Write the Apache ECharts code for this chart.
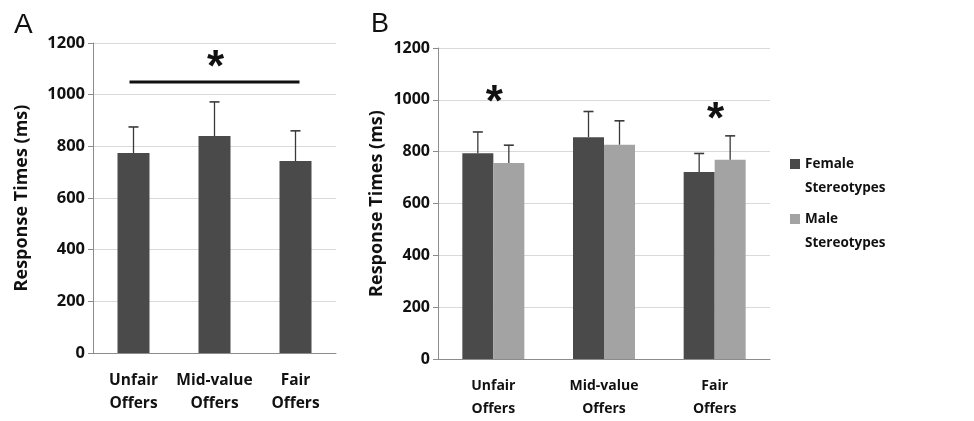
<!DOCTYPE html>
<html><head><meta charset="utf-8">
<script src="https://cdn.jsdelivr.net/npm/echarts@6/dist/echarts.min.js"></script>
<style>html,body{margin:0;padding:0;background:#fff}#c{width:974px;height:421px}</style>
</head><body><div id="c"></div>
<script>
// ---- data ----
const categories = ['Unfair Offers', 'Mid-value Offers', 'Fair Offers'];
const yTicks = [0, 200, 400, 600, 800, 1000, 1200];
const meanA = [774, 840, 743];
const errA = [101, 132, 117];
const seriesNamesB = ['Female Stereotypes', 'Male Stereotypes'];
const femaleB = [794, 856, 722];
const femaleErrB = [82, 99, 71];
const maleB = [756, 827, 769];
const maleErrB = [69, 92, 92];
const sigLineA = [0, 2, 1049];          // from category, to category, value
const starsA = [[1, 1134]];
const starsB = [[0, 1020], [2, 955]];
const panelLabels = ['A', 'B'];

// ---- styles ----
const FONT = 'Open Sans';
const DARK = '#4a4a4a', LIGHT = '#a3a3a3', AXIS = '#8c8c8c', GRIDC = '#d9d9d9', ERR = '#3a3a3a';
const BW_A = 32, BW_B = 31;

function yAxis(gridIndex, gap, fs) {
  return {
    gridIndex, type: 'value', min: yTicks[0], max: yTicks[yTicks.length - 1], interval: yTicks[1] - yTicks[0],
    name: 'Response Times (ms)', nameLocation: 'middle', nameRotate: 90, nameGap: gap,
    nameTextStyle: { fontFamily: FONT, fontWeight: 'bold', fontSize: 18, color: '#111' },
    axisLine: { show: true, lineStyle: { color: AXIS } },
    axisTick: { show: true, length: 5, lineStyle: { color: AXIS } },
    axisLabel: { fontFamily: FONT, fontWeight: 'bold', fontSize: fs, color: '#111', margin: 8, formatter: v => String(v) },
    splitLine: { lineStyle: { color: GRIDC } }
  };
}
function xAxis(gridIndex, margin, lh, fs) {
  return {
    gridIndex, type: 'category', data: categories,
    axisLine: { lineStyle: { color: AXIS } }, axisTick: { show: false },
    axisLabel: { interval: 0, fontFamily: FONT, fontWeight: 'bold', fontSize: fs, color: '#111', margin, lineHeight: lh,
      formatter: v => v.replace(' ', '\n') }
  };
}
function errSeries(idx, means, errs, offset) {
  return {
    type: 'custom', xAxisIndex: idx, yAxisIndex: idx, z: 5, silent: true,
    data: means.map((m, i) => [i, m, errs[i]]),
    renderItem: (p, api) => {
      const i = api.value(0), m = api.value(1), e = api.value(2);
      const b = api.coord([i, m]), t = api.coord([i, m + e]);
      const x = b[0] + offset;
      return { type: 'group', children: [
        { type: 'line', shape: { x1: x, y1: b[1], x2: x, y2: t[1] }, style: { stroke: ERR, lineWidth: 1.3 } },
        { type: 'line', shape: { x1: x - 5, y1: t[1], x2: x + 5, y2: t[1] }, style: { stroke: ERR, lineWidth: 1.6 } }
      ] };
    }
  };
}
function starSeries(idx, stars) {
  return {
    type: 'custom', xAxisIndex: idx, yAxisIndex: idx, z: 6, silent: true, data: stars,
    renderItem: (p, api) => {
      const c = api.coord([api.value(0), api.value(1)]);
      return { type: 'text', x: c[0] + 1, y: c[1] + 9,
        style: { text: '*', fontFamily: 'Liberation Sans', fontWeight: 'bold', fontSize: 44, fill: '#111', align: 'center', verticalAlign: 'middle' } };
    }
  };
}

const option = {
  animation: false,
  title: [
    { text: panelLabels[0], left: 9, top: 6, textStyle: { fontFamily: 'Liberation Sans', fontWeight: 'normal', fontSize: 28, color: '#111' } },
    { text: panelLabels[1], left: 366, top: 6, textStyle: { fontFamily: 'Liberation Sans', fontWeight: 'normal', fontSize: 27, color: '#111' } }
  ],
  legend: seriesNamesB.map((n, k) => ({
    data: [n], orient: 'vertical', left: 790, top: k === 0 ? 128 : 183, padding: 0,
    itemWidth: 10, itemHeight: 10, icon: 'rect', selectedMode: false,
    formatter: v => ' \n' + v.replace(' ', '\n'),
    textStyle: { fontFamily: FONT, fontWeight: 'bold', fontSize: 13.5, color: '#111', lineHeight: 24 }
  })),
  grid: [
    { left: 93, top: 43, width: 243, height: 310 },
    { left: 438, top: 48, width: 332, height: 311 }
  ],
  xAxis: [xAxis(0, 16, 23, 15.5), xAxis(1, 16, 23, 14)],
  yAxis: [yAxis(0, 62, 16.5), yAxis(1, 52, 16)],
  series: [
    { type: 'bar', xAxisIndex: 0, yAxisIndex: 0, data: meanA, barWidth: BW_A, itemStyle: { color: DARK } },
    errSeries(0, meanA, errA, 0),
    {
      type: 'custom', xAxisIndex: 0, yAxisIndex: 0, z: 5, silent: true, data: [[sigLineA[0], sigLineA[2]]],
      renderItem: (p, api) => {
        const a = api.coord([sigLineA[0], sigLineA[2]]), b = api.coord([sigLineA[1], sigLineA[2]]);
        return { type: 'line', shape: { x1: a[0] - 4, y1: a[1], x2: b[0] + 4, y2: b[1] }, style: { stroke: '#111', lineWidth: 3 } };
      }
    },
    starSeries(0, starsA),
    { name: seriesNamesB[0], type: 'bar', xAxisIndex: 1, yAxisIndex: 1, data: femaleB, barWidth: BW_B, barGap: '0%', itemStyle: { color: DARK } },
    { name: seriesNamesB[1], type: 'bar', xAxisIndex: 1, yAxisIndex: 1, data: maleB, barWidth: BW_B, barGap: '0%', itemStyle: { color: LIGHT } },
    errSeries(1, femaleB, femaleErrB, -BW_B / 2),
    errSeries(1, maleB, maleErrB, BW_B / 2),
    starSeries(1, starsB)
  ]
};
const chart = echarts.init(document.getElementById('c'), null, { renderer: 'canvas' });
chart.setOption(option);
</script></body></html>
